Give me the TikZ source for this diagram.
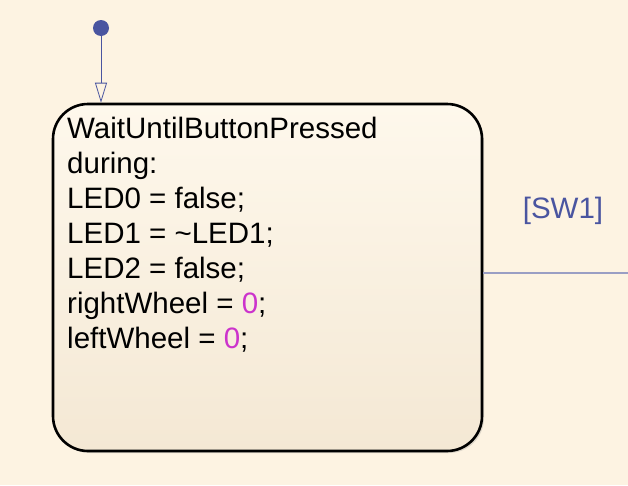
\documentclass[tikz,border=0pt]{standalone}
\usepackage{fontspec}
\setmainfont{Liberation Sans}
\usetikzlibrary{arrows.meta,shadows}
\definecolor{bg}{HTML}{FDF3E2}
\definecolor{boxtop}{HTML}{FEF8EC}
\definecolor{boxbot}{HTML}{F4E8D4}
\definecolor{sfblue}{HTML}{4A55A0}
\definecolor{translne}{HTML}{9A9EC4}
\definecolor{numcol}{HTML}{CC33CC}
\tikzset{
  x=1pt, y=1pt,
  statebox/.style={draw=black, line width=2.6pt, rounded corners=35pt,
    top color=boxtop, bottom color=boxbot,
    drop shadow={shadow xshift=2pt, shadow yshift=-2pt, opacity=0.25},
    minimum width=429pt, minimum height=347pt, inner sep=0pt},
  statetext/.style={font=\fontsize{29.5}{35}\selectfont, align=left, inner sep=0pt, text=black},
  initdot/.style={circle, fill=sfblue, minimum size=16pt, inner sep=0pt},
  deftrans/.style={draw=sfblue, line width=0.8pt, -{Triangle[open, length=20pt, width=12pt, line width=0.8pt]}},
  trans/.style={draw=translne, line width=1.6pt},
  translabel/.style={font=\fontsize{29.5}{35}\selectfont, text=sfblue, inner sep=0pt}
}
\newcommand{\numv}[1]{\textcolor{numcol}{#1}}
\begin{document}
\begin{tikzpicture}
\fill[bg] (0,0) rectangle (628,-485);
\useasboundingbox (0,0) rectangle (628,-485);
\node[statebox] (state) at (267.5,-277.5) {};
\node[statetext, anchor=base west] (body) at (67,-348) {WaitUntilButtonPressed\\during:\\LED0 = false;\\LED1 = \char`\~LED1;\\LED2 = false;\\rightWheel = \numv{0};\\leftWheel = \numv{0};};
\node[initdot] (init) at (101,-28) {};
\draw[deftrans] (init) -- (init |- state.north);
\coordinate (exitpt) at (628,-273);
\draw[trans] (state.east |- exitpt) -- (exitpt);
\node[translabel, anchor=base] (lbl) at (563,-218) {[SW1]};
\end{tikzpicture}
\end{document}
